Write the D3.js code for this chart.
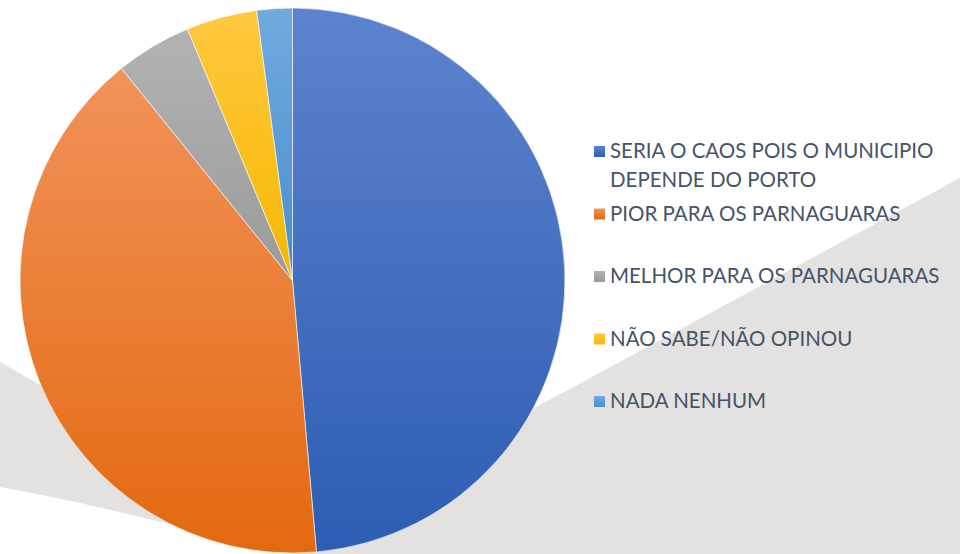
<!DOCTYPE html>
<html>
<head>
<meta charset="utf-8">
<script src="https://cdn.jsdelivr.net/npm/d3@7/dist/d3.min.js"></script>
<style>
  html, body { margin: 0; padding: 0; background: #ffffff; }
  svg { display: block; }
</style>
</head>
<body>
<svg id="chart" width="960" height="554"></svg>
<script>
// Survey answers (share of respondents, %)
const categories = [
  "SERIA O CAOS POIS O MUNICIPIO DEPENDE DO PORTO",
  "PIOR PARA OS PARNAGUARAS",
  "MELHOR PARA OS PARNAGUARAS",
  "NÃO SABE/NÃO OPINOU",
  "NADA NENHUM"
];
const values = [48.6, 40.6, 4.5, 4.2, 2.1];
const legendLines = [
  ["SERIA O CAOS POIS O MUNICIPIO", "DEPENDE DO PORTO"],
  ["PIOR PARA OS PARNAGUARAS"],
  ["MELHOR PARA OS PARNAGUARAS"],
  ["NÃO SABE/NÃO OPINOU"],
  ["NADA NENHUM"]
];
const baseColors = ["#4472C4", "#ED7D31", "#A5A5A5", "#FFC000", "#5B9BD5"];
const topColors = ["#5c83cd", "#f1935a", "#b3b3b3", "#ffc83f", "#70aade"];
const bottomColors = ["#2d5db3", "#e3690f", "#9a9a9a", "#f5b800", "#4a8dce"];

const svg = d3.select("#chart");
const W = 960, H = 554;

// Decorative background band
svg.append("rect").attr("width", W).attr("height", H).attr("fill", "#ffffff");
svg.append("path")
  .attr("d", "M0,362 L301,534 L960,178 L960,554 L292,554 C200,532 100,505 0,487 Z")
  .attr("fill", "#e3e2e0");

// Gradients per slice
const defs = svg.append("defs");
categories.forEach((c, i) => {
  const g = defs.append("linearGradient")
    .attr("id", "grad" + i)
    .attr("x1", 0).attr("y1", 0).attr("x2", 0).attr("y2", 1);
  g.append("stop").attr("offset", "0%").attr("stop-color", topColors[i]);
  g.append("stop").attr("offset", "100%").attr("stop-color", bottomColors[i]);
});

const color = d3.scaleOrdinal().domain(categories).range(baseColors);
const gradOf = d3.scaleOrdinal().domain(categories).range(categories.map((c, i) => "url(#grad" + i + ")"));

const cx = 292.5, cy = 280.5, radius = 272.5;
const data = categories.map((c, i) => ({ cat: c, value: values[i] }));
const pie = d3.pie().sort(null).value(d => d.value);
const arc = d3.arc().innerRadius(0).outerRadius(radius);

const g = svg.append("g").attr("transform", `translate(${cx},${cy})`);
g.selectAll("path.slice")
  .data(pie(data))
  .join("path")
  .attr("class", "slice")
  .attr("d", arc)
  .attr("fill", d => gradOf(d.data.cat))
  .attr("stroke", "#ffffff")
  .attr("stroke-opacity", 0.6)
  .attr("stroke-width", 1);

// Legend
const legendX = 594, textX = 610;
const legendY = d3.scaleLinear().domain([0, categories.length - 1]).range([158, 408]);
const leg = svg.append("g")
  .attr("font-family", "Lato, 'Open Sans', sans-serif")
  .attr("font-size", 20.5)
  .attr("fill", "#44546A");

categories.forEach((c, i) => {
  const y = legendY(i);
  leg.append("rect")
    .attr("x", legendX).attr("y", y - 12)
    .attr("width", 11).attr("height", 11)
    .attr("fill", gradOf(c));
  legendLines[i].forEach((line, j) => {
    leg.append("text")
      .attr("x", textX).attr("y", y + j * 29)
      .text(line);
  });
});
</script>
</body>
</html>
